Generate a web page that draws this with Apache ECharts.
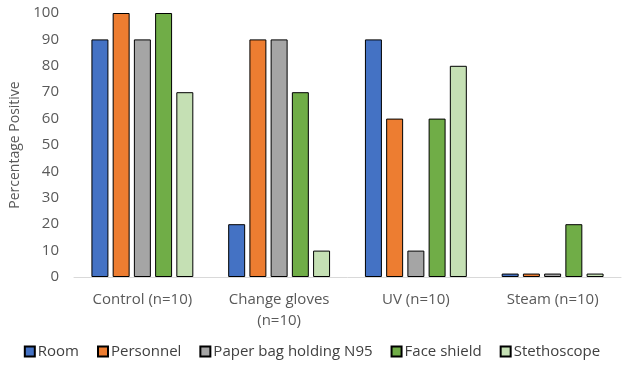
<!DOCTYPE html>
<html>
<head>
<meta charset="utf-8">
<script src="https://cdn.jsdelivr.net/npm/echarts@6/dist/echarts.min.js"></script>
<style>
  html, body { margin: 0; padding: 0; background: #fff; }
  #chart { width: 624px; height: 367px; }
</style>
</head>
<body>
<div id="chart"></div>
<script>
// Groups along the x axis
const categories = ['Control (n=10)', 'Change gloves\n(n=10)', 'UV (n=10)', 'Steam (n=10)'];

// Percentage positive per sampled item
const room = [90, 20, 90, 1.3];
const personnel = [100, 90, 60, 1.3];
const paperBag = [90, 90, 10, 1.3];
const faceShield = [100, 70, 60, 20];
const stethoscope = [70, 10, 80, 1.3];

const seriesNames = ['Room', 'Personnel', 'Paper bag holding N95', 'Face shield', 'Stethoscope'];
const seriesData = [room, personnel, paperBag, faceShield, stethoscope];
const colors = ['#4472C4', '#ED7D31', '#A5A5A5', '#70AD47', '#C5E0B4'];

const font = '"Open Sans", "Noto Sans", sans-serif';

const chart = echarts.init(document.getElementById('chart'), null, { renderer: 'canvas' });
chart.setOption({
  animation: false,
  textStyle: { fontFamily: font },
  grid: { left: 73, right: 3, top: 13, bottom: 90 },
  legend: {
    bottom: 3,
    left: 'center',
    itemWidth: 10,
    itemHeight: 10,
    itemGap: 18,
    icon: 'rect',
    textStyle: { fontSize: 15, color: '#404040', fontFamily: font, padding: [0, 0, 0, -2] },
    data: seriesNames
  },
  xAxis: {
    type: 'category',
    data: categories,
    axisLine: { show: true, lineStyle: { color: '#D9D9D9', width: 1 } },
    axisTick: { show: false },
    axisLabel: { fontSize: 15, color: '#595959', margin: 12, lineHeight: 21, interval: 0, fontFamily: font }
  },
  yAxis: {
    type: 'value',
    min: 0,
    max: 100,
    interval: 10,
    name: 'Percentage Positive',
    nameLocation: 'middle',
    nameGap: 52,
    nameTextStyle: { fontSize: 14, color: '#595959', fontFamily: font },
    axisLine: { show: false },
    axisTick: { show: false },
    splitLine: { show: false },
    axisLabel: { fontSize: 15, color: '#595959', margin: 15, fontFamily: font }
  },
  series: seriesData.map((d, i) => ({
    name: seriesNames[i],
    type: 'bar',
    data: d,
    barGap: '25%',
    barCategoryGap: '25.5%',
    itemStyle: { color: colors[i], borderColor: '#000', borderWidth: 1 }
  }))
});
</script>
</body>
</html>
